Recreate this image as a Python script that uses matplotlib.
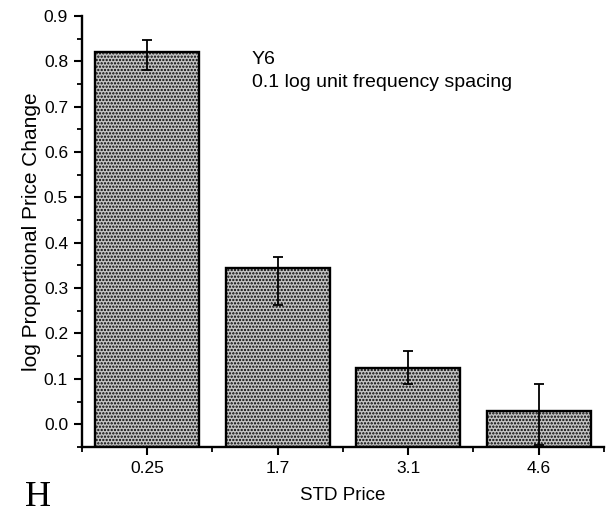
import matplotlib.pyplot as plt
import numpy as np

# data
categories = ['0.25', '1.7', '3.1', '4.6']
values = np.array([0.82, 0.345, 0.124, 0.029])
err_low = [0.04, 0.083, 0.036, 0.074]
err_high = [0.028, 0.024, 0.037, 0.06]

plt.rcParams['font.family'] = ['Liberation Sans', 'DejaVu Sans']
plt.rcParams['hatch.linewidth'] = 1.1

fig = plt.figure(figsize=(6.07, 5.16), dpi=100)
ax = fig.add_axes([0.135, 0.134, 0.86, 0.835])

ymin = -0.05
x = np.arange(len(categories))
# bars start at the bottom of the axis, as in the original plot
ax.bar(x, values - ymin, bottom=ymin, width=0.8, color='#c4c4c4', edgecolor='black',
       linewidth=1.7, hatch='.....', zorder=2)
ax.errorbar(x, values, yerr=[err_low, err_high], fmt='none', ecolor='black',
            elinewidth=1.3, capsize=3.3, capthick=1.3, zorder=3, clip_on=False)

ax.set_xlim(-0.5, 3.5)
ax.set_ylim(ymin, 0.9)
ax.set_xticks(x)
ax.set_xticklabels(categories)
ax.set_xticks(np.arange(-0.5, 3.6, 1.0), minor=True)
ax.set_yticks(np.arange(0, 0.91, 0.1))
ax.set_yticklabels(['%.1f' % v for v in np.arange(0, 0.91, 0.1)])
ax.set_yticks(np.arange(-0.05, 0.9, 0.1), minor=True)

for side in ['top', 'right']:
    ax.spines[side].set_visible(False)
for side in ['left', 'bottom']:
    ax.spines[side].set_linewidth(1.7)
ax.tick_params(which='major', direction='out', length=6, width=1.5, pad=4, labelsize=12.5)
ax.tick_params(which='minor', direction='out', length=3.5, width=1.3)

ax.set_xlabel('STD Price', fontsize=13.5, labelpad=8)
ax.set_ylabel('log Proportional Price Change', fontsize=15, labelpad=2)

ax.text(0.8, 0.795, 'Y6', fontsize=14)
ax.text(0.8, 0.744, '0.1 log unit frequency spacing', fontsize=14)

fig.text(0.063, 0.02, 'H', fontsize=26, family=['Liberation Serif', 'DejaVu Serif'],
         ha='center', va='baseline')

fig.savefig('out.png', dpi=100)
